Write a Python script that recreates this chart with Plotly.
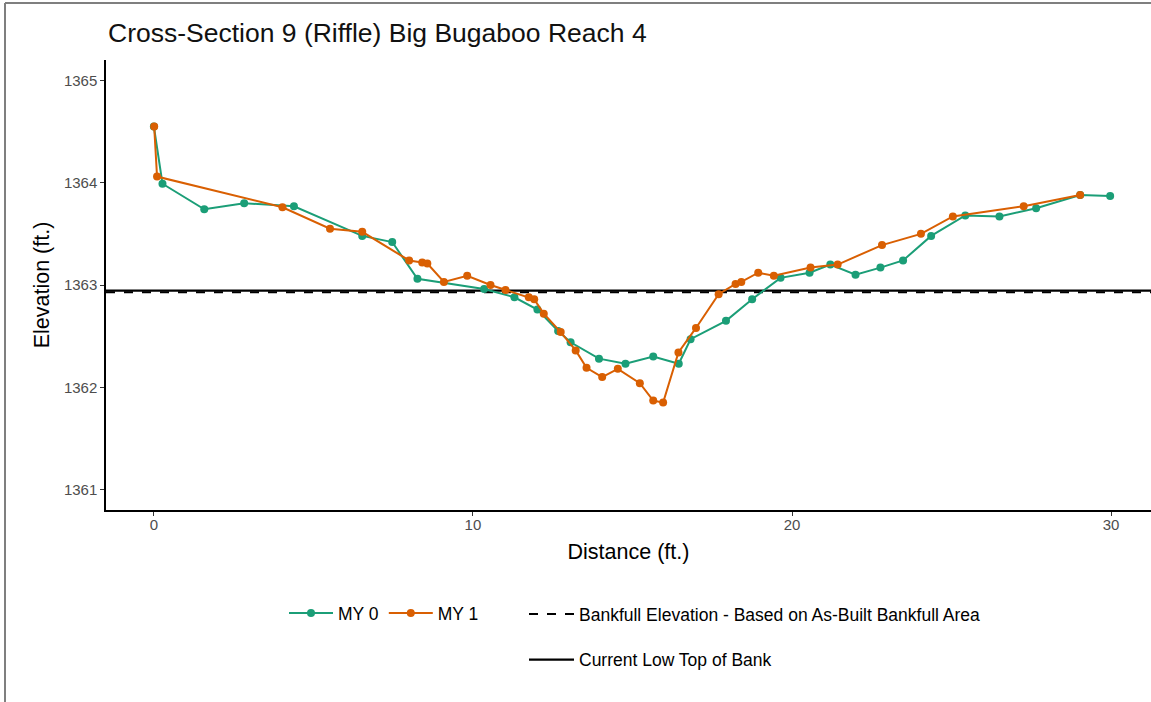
import plotly.graph_objects as go

# ---- data ----
my0_dist = [0.0, 0.27, 1.58, 2.83, 4.39, 6.53, 7.47, 8.26, 10.35, 11.3, 12.02, 12.67,
            13.06, 13.95, 14.78, 15.65, 16.45, 16.82, 17.93, 18.75, 19.64, 20.55, 21.2,
            21.99, 22.77, 23.48, 24.36, 25.43, 26.5, 27.65, 29.03, 29.97]
my0_elev = [1364.55, 1363.99, 1363.74, 1363.80, 1363.77, 1363.48, 1363.42, 1363.06,
            1362.96, 1362.88, 1362.76, 1362.55, 1362.44, 1362.28, 1362.23, 1362.30,
            1362.23, 1362.47, 1362.65, 1362.86, 1363.07, 1363.12, 1363.20, 1363.10,
            1363.17, 1363.24, 1363.48, 1363.68, 1363.67, 1363.75, 1363.88, 1363.87]

my1_dist = [0.01, 0.1, 4.03, 5.52, 6.53, 8.0, 8.41, 8.57, 9.09, 9.82, 10.55, 11.02,
            11.75, 11.92, 12.22, 12.75, 13.22, 13.56, 14.05, 14.54, 15.23, 15.65, 15.96,
            16.44, 16.99, 17.7, 18.23, 18.41, 18.94, 19.43, 20.58, 21.43, 22.82, 24.04,
            25.04, 27.26, 29.03]
my1_elev = [1364.55, 1364.06, 1363.76, 1363.55, 1363.52, 1363.24, 1363.22, 1363.21,
            1363.03, 1363.09, 1363.00, 1362.95, 1362.88, 1362.86, 1362.72, 1362.54,
            1362.36, 1362.19, 1362.10, 1362.18, 1362.04, 1361.87, 1361.85, 1362.34,
            1362.58, 1362.91, 1363.01, 1363.03, 1363.12, 1363.09, 1363.17, 1363.20,
            1363.39, 1363.50, 1363.67, 1363.77, 1363.88]

bankfull_elev = 1362.93
low_top_of_bank = 1362.945

x_range = [-1.5, 31.25]
y_range = [1360.8, 1365.2]
y_ticks = [1361, 1362, 1363, 1364, 1365]
x_ticks = [0, 10, 20, 30]

title_text = "Cross-Section 9 (Riffle) Big Bugaboo Reach 4"
x_title = "Distance (ft.)"
y_title = "Elevation (ft.)"

GREEN = "#1B9E77"
ORANGE = "#D95F02"
FONT = "Liberation Sans, Arial, sans-serif"

W, H = 1151, 702
L, R, T, B = 106, 0, 60, 192
PW, PH = W - L - R, H - T - B


def px_x(px):
    return (px - L) / PW


def px_y(py):
    return (H - B - py) / PH


fig = go.Figure()

fig.add_trace(go.Scatter(
    x=[x_range[0], x_range[1]], y=[bankfull_elev, bankfull_elev], mode="lines",
    name="Bankfull Elevation - Based on As-Built Bankfull Area",
    line=dict(color="black", width=2, dash="dash"), legend="legend2",
    legendgroup="bkf", hoverinfo="skip"))
fig.add_trace(go.Scatter(
    x=[x_range[0], x_range[1]], y=[low_top_of_bank, low_top_of_bank], mode="lines",
    name="Current Low Top of Bank",
    line=dict(color="black", width=2.2), legend="legend2",
    legendgroup="tob", hoverinfo="skip"))

fig.add_trace(go.Scatter(
    x=my0_dist, y=my0_elev, mode="lines+markers", name="MY 0",
    line=dict(color=GREEN, width=2), marker=dict(color=GREEN, size=8),
    legend="legend"))
fig.add_trace(go.Scatter(
    x=my1_dist, y=my1_elev, mode="lines+markers", name="MY 1",
    line=dict(color=ORANGE, width=2), marker=dict(color=ORANGE, size=8),
    legend="legend"))

axis_common = dict(
    showgrid=False, zeroline=False, showline=True, linecolor="black", linewidth=1.5,
    ticks="outside", ticklen=4, tickcolor="#333333", tickwidth=1,
    tickfont=dict(family=FONT, size=15, color="#4D4D4D"), mirror=False,
)

fig.update_layout(
    width=W, height=H,
    paper_bgcolor="white", plot_bgcolor="white",
    margin=dict(l=L, r=R, t=T, b=B),
    title=dict(text=title_text, x=108 / W, xanchor="left", y=1 - 33 / H,
               yanchor="middle", font=dict(family=FONT, size=26.5, color="#111111")),
    xaxis=dict(range=x_range, tickvals=x_ticks, ticktext=[str(v) for v in x_ticks],
               ticklabelstandoff=-4,
               title=dict(text=x_title, font=dict(family=FONT, size=21.5, color="black"),
                          standoff=12),
               **axis_common),
    yaxis=dict(range=y_range, tickvals=y_ticks, ticktext=[str(v) for v in y_ticks],
               title=dict(text=y_title, font=dict(family=FONT, size=21.5, color="black"),
                          standoff=8),
               **axis_common),
    legend=dict(orientation="h", x=px_x(284), xanchor="left",
                y=px_y(613), yanchor="middle",
                font=dict(family=FONT, size=17.5, color="black"),
                bgcolor="rgba(0,0,0,0)", itemwidth=44),
    legend2=dict(orientation="v", x=px_x(524), xanchor="left",
                 y=px_y(596), yanchor="top",
                 font=dict(family=FONT, size=17.5, color="black"),
                 bgcolor="rgba(0,0,0,0)", tracegroupgap=20, itemwidth=45),
    showlegend=True,
)

# outer grey frame (left and top edges of the reference image)
fig.add_shape(type="line", xref="paper", yref="paper",
              x0=px_x(5), x1=px_x(5), y0=px_y(H), y1=px_y(3),
              line=dict(color="#7F7F7F", width=2))
fig.add_shape(type="line", xref="paper", yref="paper",
              x0=px_x(5), x1=1.0, y0=px_y(3), y1=px_y(3),
              line=dict(color="#7F7F7F", width=2))

fig.write_html("out.html", config={"displayModeBar": False},
               post_script="document.body.style.margin='0';document.body.style.overflow='hidden';")
